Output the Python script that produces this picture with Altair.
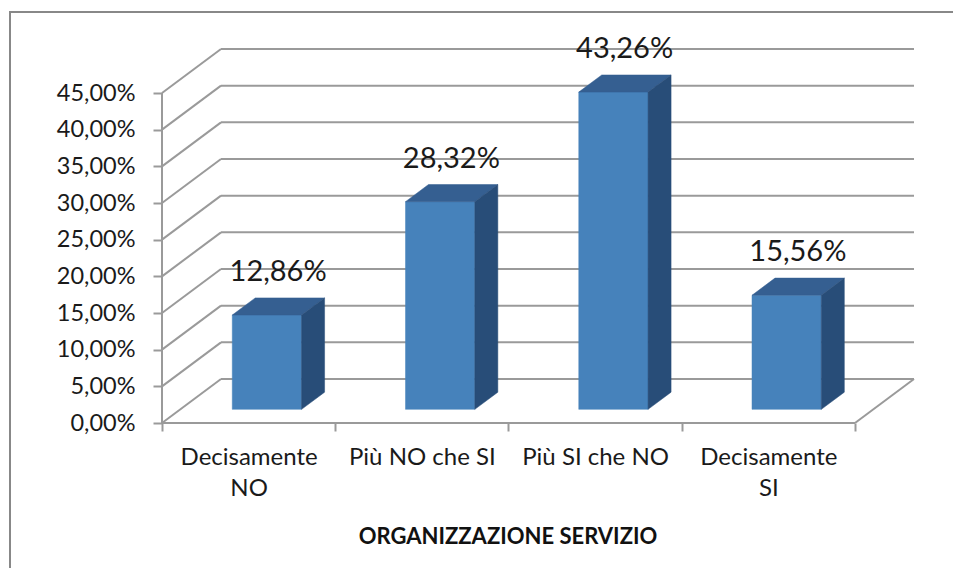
import altair as alt
import pandas as pd

# ---- data ----
categories = ["Decisamente NO", "Più NO che SI", "Più SI che NO", "Decisamente SI"]
label_lines = [["Decisamente", "NO"], ["Più NO che SI"], ["Più SI che NO"], ["Decisamente", "SI"]]
values = [12.86, 28.32, 43.26, 15.56]
y_ticks = [0, 5, 10, 15, 20, 25, 30, 35, 40, 45]
axis_title = "ORGANIZZAZIONE SERVIZIO"

# ---- oblique 3D projection parameters (style) ----
DX = 0.3406   # x shift (category units) per unit of depth
DY = 6.0      # y shift (percent units) per unit of depth
D0, D1 = 0.31, 0.70   # bar front / back depth
HALF = 0.2            # bar half width (category units)
N = len(categories)
YMAX = max(y_ticks)

FONT = "Lato"
GRID = "#9a9a9a"

# bar faces
front_rows, top_rows, side_rows, lab_rows = [], [], [], []
for i, (c, v) in enumerate(zip(categories, values)):
    xl, xr = i + 0.5 - HALF, i + 0.5 + HALF
    front_rows.append({"cat": c, "X": xl + D0 * DX, "X2": xr + D0 * DX, "Y": D0 * DY, "Y2": v + D0 * DY})
    for d in (D0, D1):
        top_rows.append({"cat": c, "Y": v + d * DY, "X": xl + d * DX, "X2": xr + d * DX})
        side_rows.append({"cat": c, "X": xr + d * DX, "Y": d * DY, "Y2": v + d * DY})
    lab_rows.append({"cat": c, "v": v, "X": i + 0.5 + 0.5 * DX, "Y": v + D1 * DY})

front_df = pd.DataFrame(front_rows)
top_df = pd.DataFrame(top_rows)
side_df = pd.DataFrame(side_rows)
lab_df = pd.DataFrame(lab_rows)

# walls / floor lines
grid_rows = []
for g in y_ticks:
    grid_rows.append({"X": DX, "Y": g + DY, "X2": N + DX, "Y2": g + DY})   # back wall
    grid_rows.append({"X": 0, "Y": g, "X2": DX, "Y2": g + DY})             # side wall
grid_rows.append({"X": 0, "Y": 0, "X2": N, "Y2": 0})                        # floor front
grid_rows.append({"X": N, "Y": 0, "X2": N + DX, "Y2": DY})                  # floor right
grid_rows.append({"X": 0, "Y": 0, "X2": 0, "Y2": YMAX})                     # value axis line
grid_df = pd.DataFrame(grid_rows)

xscale = alt.Scale(domain=[0, N + DX], nice=False, zero=False)
yscale = alt.Scale(domain=[0, YMAX + DY], nice=False, zero=False)

labels_js = "[" + ",".join("[" + ",".join("'" + s + "'" for s in lines) + "]" for lines in label_lines) + "]"
x_values = [k / 2 for k in range(2 * N + 1)]

x_axis = alt.Axis(
    values=x_values,
    labelExpr=f"datum.value % 1 == 0 ? '' : {labels_js}[floor(datum.value)]",
    tickOpacity={"condition": {"test": "datum.value % 1 == 0", "value": 1}, "value": 0},
    tickSize=8, tickWidth=2, tickColor=GRID,
    domain=False, grid=False,
    labelPadding=33, labelBaseline="alphabetic", labelLineHeight=31,
    labelFont=FONT, labelFontSize=24, labelColor="#1a1a1a",
    labelOverlap=False, labelFlush=False, labelBound=False,
    title=axis_title, titleFont=FONT, titleFontSize=22, titleFontWeight="bold",
    titleColor="#111111", titleX=345.5, titleY=120, titleAlign="center",
    titleBaseline="alphabetic", titleAnchor="start",
)
y_axis = alt.Axis(
    values=y_ticks,
    labelExpr="replace(format(datum.value / 100, '.2%'), '.', ',')",
    tickSize=9, tickWidth=2, tickColor=GRID,
    domain=False, grid=False, labelPadding=18,
    labelFont=FONT, labelFontSize=23.5, labelColor="#1a1a1a",
    labelFlush=False, title=None,
)


def xenc():
    return alt.X("X:Q", scale=xscale, axis=x_axis)


def yenc():
    return alt.Y("Y:Q", scale=yscale, axis=y_axis)


grid = alt.Chart(grid_df).mark_rule(color=GRID, strokeWidth=2).encode(
    x=xenc(), y=yenc(), x2="X2:Q", y2="Y2:Q",
)

# outer chart frame (only top and left edges are inside the picture)
frame_top = alt.Chart(alt.Data(values=[{}])).mark_rule(color="#888888", strokeWidth=2).encode(
    x=alt.value(-152), x2=alt.value(2000), y=alt.value(-37)
)
frame_left = alt.Chart(alt.Data(values=[{}])).mark_rule(color="#888888", strokeWidth=2).encode(
    x=alt.value(-152), y=alt.value(-38), y2=alt.value(2000)
)

front = alt.Chart(front_df).mark_rect(color="#4682BB", stroke="#4682BB", strokeWidth=0.5).encode(
    x=xenc(), x2="X2:Q", y=yenc(), y2="Y2:Q",
)
top = alt.Chart(top_df).mark_area(orient="horizontal", color="#355F91", stroke="#355F91", strokeWidth=0.5).encode(
    y=yenc(), x=xenc(), x2="X2:Q", detail="cat:N",
)
side = alt.Chart(side_df).mark_area(color="#284D78", stroke="#284D78", strokeWidth=0.5).encode(
    x=xenc(), y=yenc(), y2="Y2:Q", detail="cat:N",
)
labels = alt.Chart(lab_df).transform_calculate(
    lab="replace(format(datum.v / 100, '.2%'), '.', ',')"
).mark_text(font=FONT, fontSize=29, baseline="alphabetic", dy=-17, color="#1a1a1a").encode(
    x=xenc(), y=yenc(), text="lab:N",
)

chart = alt.layer(grid, frame_top, frame_left, front, top, side, labels).properties(
    width=752, height=374,
    padding={"left": 154, "top": 41, "right": 39, "bottom": 145},
    autosize=alt.AutoSizeParams(type="none"),
).configure_view(stroke=None)

chart.save("out.html", embed_options={"renderer": "svg", "actions": False})
